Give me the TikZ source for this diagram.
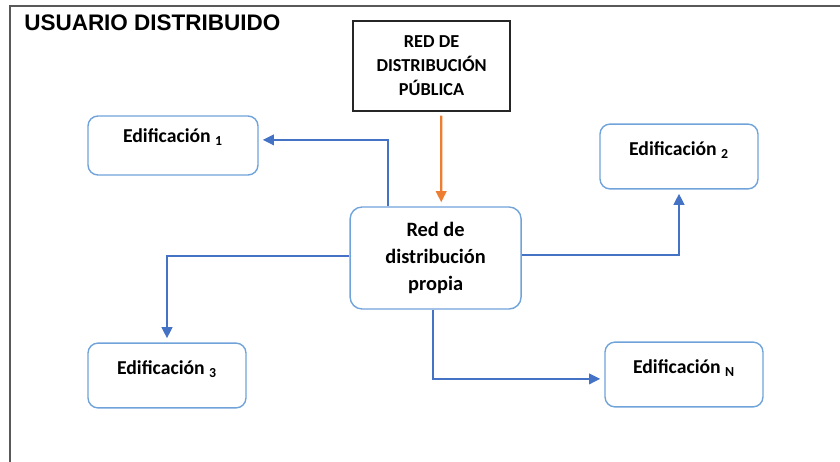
\documentclass[tikz,border=0pt]{standalone}
\usepackage{fontspec}
\setmainfont{Carlito}
\newfontfamily\titlefont{Liberation Sans}
\usetikzlibrary{arrows.meta}

\definecolor{linkblue}{RGB}{68,114,196}
\definecolor{boxblue}{RGB}{112,163,218}
\definecolor{feedorange}{RGB}{237,125,49}
\definecolor{framegray}{RGB}{89,89,89}

\begin{document}
\begin{tikzpicture}[
    every node/.style={font=\bfseries},
    building/.style={draw=boxblue, line width=1pt, rounded corners=0.25cm, fill=white,
        minimum width=3.95cm, inner sep=0pt, text height=0.78cm, text depth=0.84cm,
        font=\fontsize{14}{16}\selectfont\bfseries},
    hubbox/.style={draw=boxblue, line width=1pt, rounded corners=0.3cm, align=center,
        minimum width=4.275cm, minimum height=2.55cm, inner sep=0pt,
        font=\fontsize{14.5}{19.5}\selectfont\bfseries},
    publicbox/.style={draw=black!85, line width=0.9pt, align=center,
        minimum width=3.925cm, minimum height=2.25cm, inner sep=0pt,
        font=\fontsize{13}{17}\selectfont\bfseries},
    link/.style={draw=linkblue, line width=1.7pt, -{Triangle[length=0.28cm, width=0.26cm]}, shorten >=0.1cm},
    feed/.style={draw=feedorange, line width=1.7pt, -{Triangle[length=0.28cm, width=0.26cm]}, shorten >=0.1cm, shorten <=0.1cm}
]

    % Canvas
    \useasboundingbox (0,0) rectangle (21,-11.55);
    \draw[framegray, line width=1.4pt] (0.26,-11.55) -- (0.26,-0.16) -- (21,-0.16);

    % Title
    \node[anchor=west, inner sep=0pt, font=\titlefont\fontsize{16}{18}\selectfont\bfseries] (title) at (0.6,-0.56) {USUARIO DISTRIBUIDO};

    % Supply and own network
    \node[publicbox] (pub) at (10.79,-1.65) {RED DE\\DISTRIBUCIÓN\\PÚBLICA};
    \node[hubbox] (hub) at (10.89,-6.45) {Red de\\distribución\\propia};

    % Buildings
    \node[building, minimum width=4.25cm, text height=0.665cm, text depth=0.81cm] (ed1) at (4.325,-3.6375) {Edificación \textsubscript{1}};
    \node[building] (ed2) at (16.975,-3.9125) {Edificación \textsubscript{2}};
    \node[building] (ed3) at (4.175,-9.3875) {Edificación \textsubscript{3}};
    \node[building] (edN) at (17.1,-9.3625) {Edificación \textsubscript{N}};

    % Feed from the public network
    \draw[feed] ([xshift=0.24cm]pub.south) -- ([xshift=0.14cm]hub.north);

    % Branches to the buildings
    \draw[link] ([xshift=-1.19cm]hub.north) |- ([yshift=0.14cm]ed1.east);
    \draw[link] ([yshift=0.07cm]hub.east) -| (ed2.south);
    \draw[link] ([yshift=0.05cm]hub.west) -| (ed3.north);
    \draw[link] ([xshift=-0.06cm]hub.south) |- ([yshift=-0.11cm]edN.west);

\end{tikzpicture}
\end{document}
